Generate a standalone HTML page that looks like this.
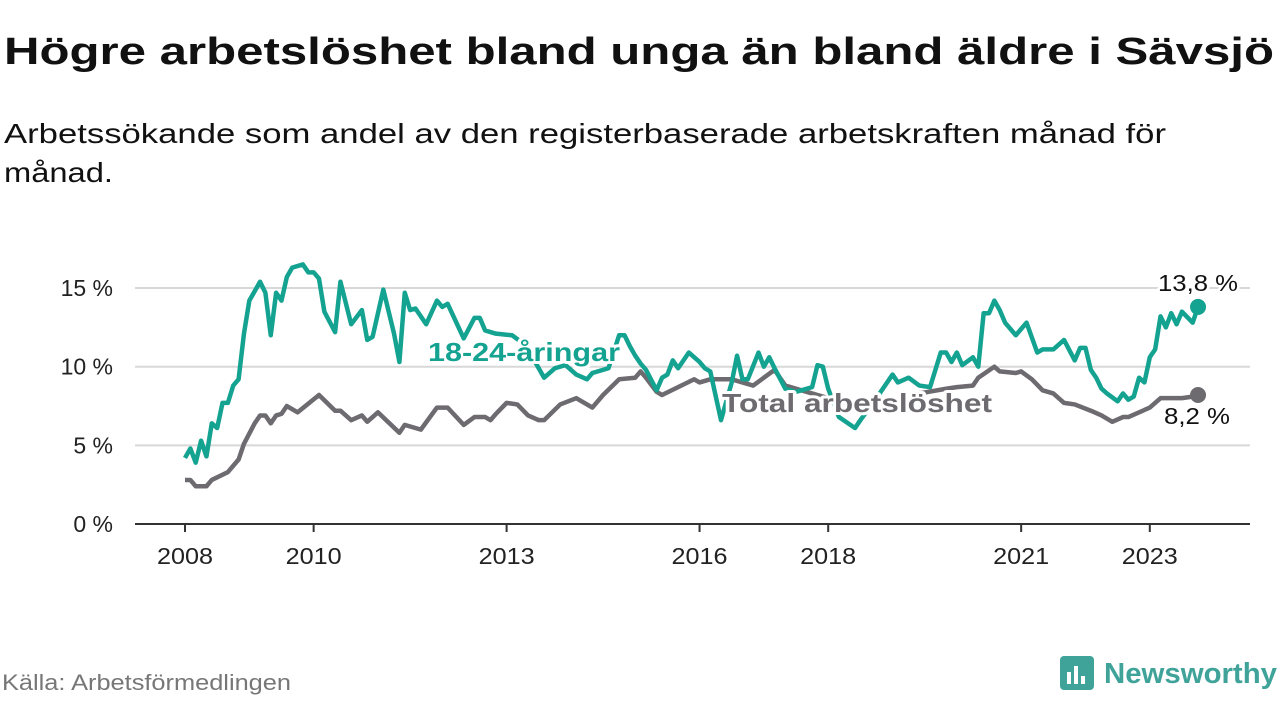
<!DOCTYPE html>
<html><head><meta charset="utf-8"><style>
body{margin:0;background:#fff;width:1280px;height:720px;overflow:hidden;font-family:"Liberation Sans",sans-serif}
svg{display:block}
</style></head><body>
<svg width="1280" height="720">
<text x="4" y="64" font-size="38" font-weight="bold" fill="#111" textLength="1270" lengthAdjust="spacingAndGlyphs">Högre arbetslöshet bland unga än bland äldre i Sävsjö</text>
<text x="4" y="143" font-size="28" fill="#111" textLength="1162" lengthAdjust="spacingAndGlyphs">Arbetssökande som andel av den registerbaserade arbetskraften månad för</text>
<text x="4" y="182" font-size="28" fill="#111" textLength="109" lengthAdjust="spacingAndGlyphs">månad.</text>
<g id="grid"></g><g id="lines"></g><g id="labels"></g>
<text x="2" y="690" font-size="22" fill="#777" textLength="289" lengthAdjust="spacingAndGlyphs">Källa: Arbetsförmedlingen</text>
<g>
<rect x="1060" y="656" width="34" height="34" rx="4" fill="#3fa39a"/>
<rect x="1067" y="672" width="4" height="12" fill="#fff"/><rect x="1074" y="666" width="4" height="18" fill="#fff"/><rect x="1081" y="676" width="4" height="8" fill="#fff"/>
<text x="1104" y="683" font-size="29" font-weight="bold" fill="#3fa39a" textLength="173" lengthAdjust="spacingAndGlyphs">Newsworthy</text>
</g>
</svg>
<script>
const yTicks=[0,5,10,15];
const yTickLabels=["0 %","5 %","10 %","15 %"];
const xTickMonths=[0,24,60,96,120,156,180];
const xTickLabels=["2008","2010","2013","2016","2018","2021","2023"];
const youthMonths=[0,1,2,3,4,5,6,7,8,9,10,11,12,14,15,16,17,18,19,20,22,23,24,25,26,28,29,31,33,34,35,37,39,40,41,42,43,45,47,48,49,52,54,55,56,58,61,63,65,67,69,71,73,75,76,79,81,82,83,84,85,86,88,89,90,91,92,94,96,97,98,100,102,103,104,105,107,108,109,110,112,114,115,117,118,119,120,122,125,126,129,132,133,135,137,139,141,142,143,144,145,147,148,149,150,151,152,153,155,157,159,160,162,164,166,167,168,169,170,171,172,174,175,176,177,178,179,180,181,182,183,184,185,186,188,189];
const youthValues=[4.2,4.8,3.9,5.3,4.3,6.4,6.1,7.7,7.7,8.8,9.2,12.1,14.2,15.4,14.7,12.0,14.7,14.2,15.7,16.3,16.5,16.0,16.0,15.6,13.5,12.2,15.4,12.7,13.6,11.7,11.9,14.9,12.1,10.3,14.7,13.6,13.7,12.7,14.2,13.8,14.0,11.8,13.1,13.1,12.3,12.1,12.0,11.5,10.5,9.3,9.9,10.1,9.5,9.2,9.6,9.9,12.0,12.0,11.3,10.7,10.2,9.8,8.5,9.3,9.5,10.4,9.9,10.9,10.3,9.9,9.7,6.6,9.0,10.7,9.2,9.2,10.9,10.0,10.6,9.9,8.6,8.4,8.5,8.7,10.1,10.0,8.6,6.8,6.1,6.6,8.0,9.5,9.0,9.3,8.8,8.7,10.9,10.9,10.3,10.9,10.1,10.6,10.0,13.4,13.4,14.2,13.6,12.8,12.0,12.8,10.9,11.1,11.1,11.7,10.4,11.2,11.2,9.8,9.3,8.6,8.3,7.8,8.3,7.9,8.1,9.3,9.0,10.6,11.1,13.2,12.5,13.4,12.7,13.5,12.8,13.8];
const totalMonths=[0,1,2,4,5,8,10,11,13,14,15,16,17,18,19,21,25,28,29,31,33,34,36,40,41,44,47,49,52,54,56,57,58,60,62,64,66,67,70,73,76,78,81,84,85,86,88,89,92,95,96,98,102,106,110,112,115,120,126,132,137,142,144,147,148,151,152,155,156,158,160,162,164,166,169,171,173,175,176,180,182,186,188,189];
const totalValues=[2.8,2.8,2.4,2.4,2.8,3.3,4.1,5.1,6.4,6.9,6.9,6.4,6.9,7.0,7.5,7.1,8.2,7.2,7.2,6.6,6.9,6.5,7.1,5.8,6.3,6.0,7.4,7.4,6.3,6.8,6.8,6.6,7.0,7.7,7.6,6.9,6.6,6.6,7.6,8.0,7.4,8.2,9.2,9.3,9.7,9.3,8.4,8.2,8.7,9.2,9.0,9.2,9.2,8.8,9.8,8.8,8.5,8.0,7.3,7.8,8.3,8.6,8.7,8.8,9.3,10.0,9.7,9.6,9.7,9.2,8.5,8.3,7.7,7.6,7.2,6.9,6.5,6.8,6.8,7.4,8.0,8.0,8.1,8.2];
const NS="http://www.w3.org/2000/svg";
const X=m=>185+m*5.36, Y=v=>524-v*15.73;
function mk(tag,attrs,parent){const e=document.createElementNS(NS,tag);for(const k in attrs)e.setAttribute(k,attrs[k]);parent.appendChild(e);return e;}
const grid=document.getElementById('grid'),lines=document.getElementById('lines'),labels=document.getElementById('labels');
yTicks.forEach((v,i)=>{
 if(v>0){const g=mk('line',{x1:135,x2:1250,y1:Y(v),y2:Y(v),stroke:'#d8d8d8','stroke-width':2},grid);
 
 }
 const t=mk('text',{x:113,y:Y(v)+8,'text-anchor':'end','font-size':23,fill:'#222'},grid);t.textContent=yTickLabels[i];
 
 
});
const ax=mk('line',{x1:135,x2:1250,y1:524,y2:524,stroke:'#333','stroke-width':2},grid);


xTickMonths.forEach((m,i)=>{
 mk('line',{x1:X(m),x2:X(m),y1:524,y2:532,stroke:'#333','stroke-width':2},grid);
 const t=mk('text',{x:X(m),y:564,'text-anchor':'middle','font-size':23,fill:'#222',textLength:56,lengthAdjust:'spacingAndGlyphs'},grid);t.textContent=xTickLabels[i];
 
 
});
function series(ms,vs,color,name){
 const p=mk('polyline',{points:ms.map((m,i)=>X(m)+','+Y(vs[i])).join(' '),fill:'none',stroke:color,'stroke-width':4.5,'stroke-linejoin':'round'},lines);
 
 
 const n=ms.length-1;
 const c=mk('circle',{cx:X(ms[n]),cy:Y(vs[n]),r:8,fill:color},lines);
 
 
}
series(totalMonths,totalValues,'#6d6b70','total-line');
series(youthMonths,youthValues,'#14a291','youth-line');
function lab(x,y,txt,color,bold,size,len,name){
 const t=mk('text',{x:x,y:y,'font-size':size,'font-weight':bold?'bold':'normal',fill:color,stroke:'#fff','stroke-width':bold?6:5,'paint-order':'stroke','stroke-linejoin':'round',textLength:len,lengthAdjust:'spacingAndGlyphs'},labels);
 t.textContent=txt;
 
 
}
lab(428,361,'18-24-åringar','#14a291',true,26,192,'youth-series-label');
lab(722,412,'Total arbetslöshet','#6d6b70',true,26,270,'total-series-label');
lab(1158,291,'13,8 %','#111',false,23,80,'youth-end-value');
lab(1164,424,'8,2 %','#111',false,23,66,'total-end-value');
</script>
</body></html>
